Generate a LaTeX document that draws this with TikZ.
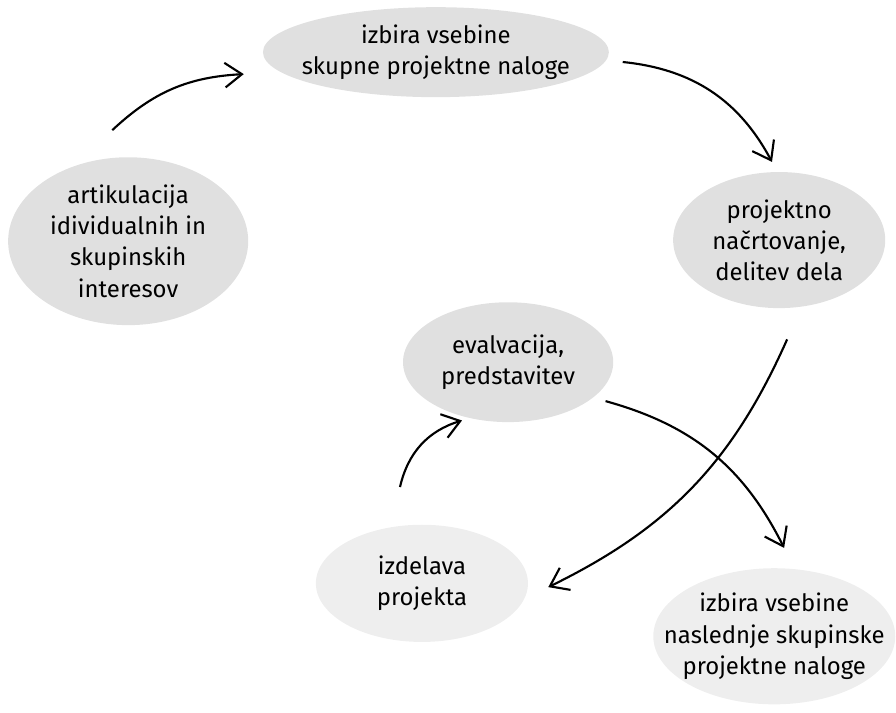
\documentclass[tikz,border=0pt]{standalone}
\usepackage{fontspec}
\setmainfont{Fira Sans}
\usepackage{tikz}
\usetikzlibrary{shapes.geometric,arrows.meta}

\definecolor{ovalgray}{HTML}{E0E0E0}
\definecolor{ovallight}{HTML}{EEEEEE}

\tikzset{
  stage/.style={ellipse, fill=ovalgray, inner sep=-20pt, align=center,
    font=\fontsize{18}{23.5}\selectfont},
  stagelight/.style={stage, fill=ovallight},
  flow/.style={line width=1.6pt, -{Straight Barb[length=4.5mm,width=6.5mm,line width=1.6pt]}}
}

\begin{document}
\begin{tikzpicture}
    \useasboundingbox (0,0) rectangle (23.70,18.84);

    \node[stage, minimum width=9.15cm, minimum height=2.38cm] (izbira) at (11.53,17.46) {izbira vsebine\\skupne projektne naloge};
    \node[stage, minimum width=6.35cm, minimum height=4.44cm] (interesi) at (3.39,12.46) {artikulacija\\idividualnih in\\skupinskih\\interesov};
    \node[stage, minimum width=5.61cm, minimum height=3.6cm] (nacrt) at (20.61,12.49) {projektno\\načrtovanje,\\delitev dela};
    \node[stage, minimum width=5.56cm, minimum height=3.17cm] (eval) at (13.44,9.26) {evalvacija,\\predstavitev};
    \node[stagelight, minimum width=5.61cm, minimum height=3.1cm] (izdelava) at (11.16,3.41) {izdelava\\projekta};
    \node[stagelight, minimum width=6.4cm, minimum height=3.6cm] (naslednja) at (20.48,2.01) {izbira vsebine\\naslednje skupinske\\projektne naloge};

    % cycle
    \draw[flow] ([shift={(-0.42,0.71)}]interesi.north) to[bend left=20] ([shift={(-0.5,-0.58)}]izbira.west);
    \draw[flow] ([shift={(0.36,-0.26)}]izbira.east) to[bend left=28] ([shift={(-0.19,0.26)}]nacrt.north);
    \draw[flow] ([shift={(0.21,-0.82)}]nacrt.south) to[bend left=20] ([shift={(0.53,-0.1)}]izdelava.east);
    \draw[flow] ([shift={(-0.21,-1.03)}]eval.east) to[bend left=24] ([shift={(0.26,0.53)}]naslednja.north);
    \draw[flow] ([shift={(-0.58,0.99)}]izdelava.north) to[bend left=30] ([shift={(-1.22,0.05)}]eval.south);
\end{tikzpicture}
\end{document}
